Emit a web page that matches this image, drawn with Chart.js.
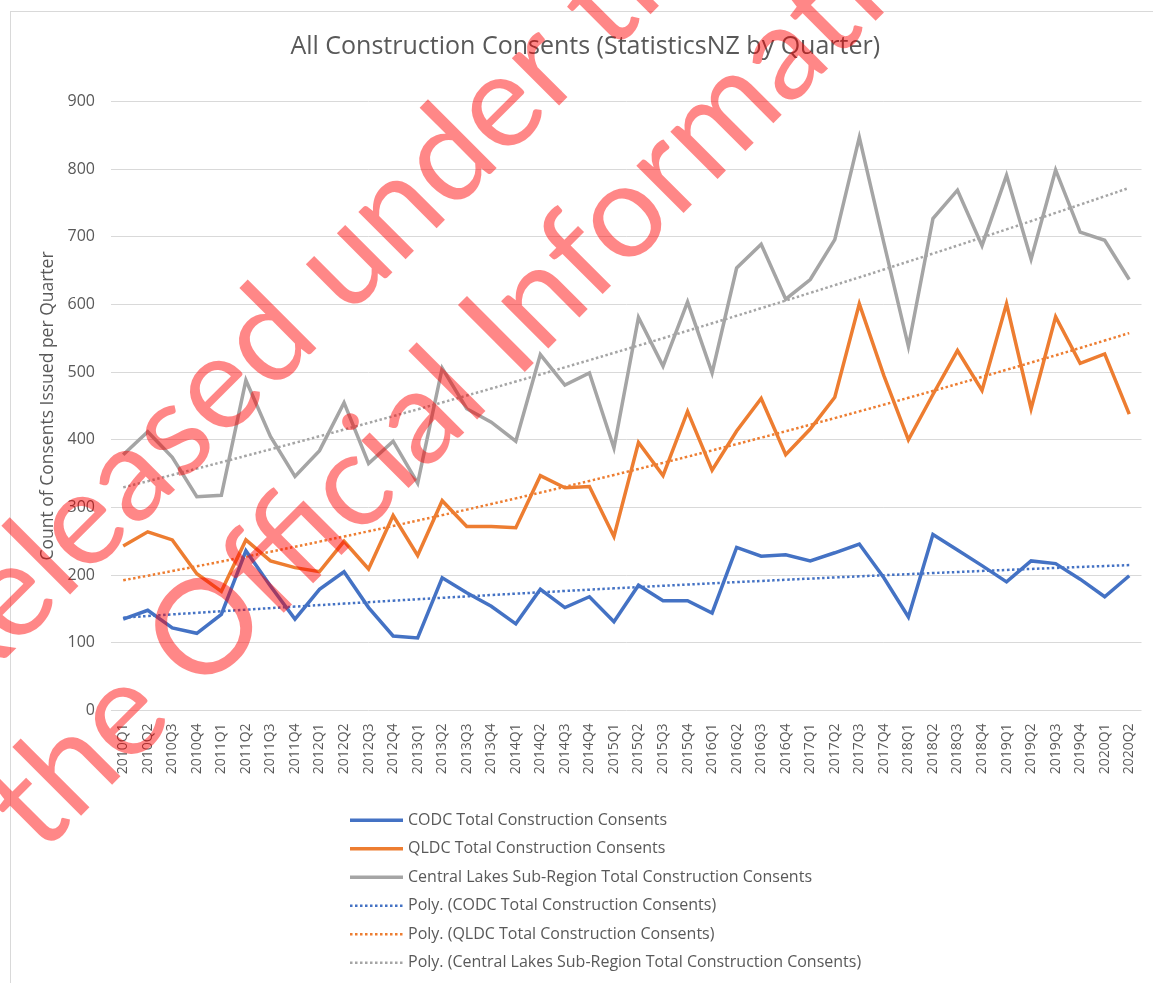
<!DOCTYPE html>
<html>
<head>
<meta charset="utf-8">
<title>All Construction Consents</title>
<script src="https://cdn.jsdelivr.net/npm/chart.js@4.4.1/dist/chart.umd.min.js"></script>
<style>
  html, body { margin: 0; padding: 0; background: #fff; }
  #wrap { width: 1153px; height: 983px; position: relative; }
</style>
</head>
<body>
<div id="wrap"><canvas id="consents-chart"></canvas></div>
<script>
const quarters = ["2010Q1","2010Q2","2010Q3","2010Q4","2011Q1","2011Q2","2011Q3","2011Q4",
  "2012Q1","2012Q2","2012Q3","2012Q4","2013Q1","2013Q2","2013Q3","2013Q4",
  "2014Q1","2014Q2","2014Q3","2014Q4","2015Q1","2015Q2","2015Q3","2015Q4",
  "2016Q1","2016Q2","2016Q3","2016Q4","2017Q1","2017Q2","2017Q3","2017Q4",
  "2018Q1","2018Q2","2018Q3","2018Q4","2019Q1","2019Q2","2019Q3","2019Q4",
  "2020Q1","2020Q2"];

const codc = [135,148,122,114,142,236,184,135,179,205,152,110,107,196,174,154,
  128,179,152,168,131,185,162,162,144,241,228,230,221,233,246,196,
  138,260,237,214,190,221,217,194,168,199];

const qldc = [243,264,252,202,176,252,221,211,205,250,209,288,229,310,272,272,
  270,347,329,331,257,396,347,442,355,413,461,378,416,463,601,495,
  400,467,532,473,601,446,582,513,527,438];

const centralLakes = [378,412,374,316,318,488,405,346,384,455,365,398,336,506,446,426,
  398,526,481,499,388,581,509,604,499,654,689,608,637,696,847,691,
  538,727,769,687,791,667,799,707,695,637];

const seriesNames = ["CODC Total Construction Consents",
  "QLDC Total Construction Consents",
  "Central Lakes Sub-Region Total Construction Consents"];

const BLUE = "#4472C4", ORANGE = "#ED7D31", GREY = "#A5A5A5";

// order 2 least squares fit, same as the excel "Poly." trendline
function polyTrend(values) {
  const s = [0, 0, 0, 0, 0], t = [0, 0, 0];
  values.forEach((v, i) => {
    const x = i + 1;
    for (let k = 0; k < 5; k++) s[k] += Math.pow(x, k);
    for (let k = 0; k < 3; k++) t[k] += v * Math.pow(x, k);
  });
  const det = m => m[0][0]*(m[1][1]*m[2][2]-m[1][2]*m[2][1])
                 - m[0][1]*(m[1][0]*m[2][2]-m[1][2]*m[2][0])
                 + m[0][2]*(m[1][0]*m[2][1]-m[1][1]*m[2][0]);
  const A = [[s[0], s[1], s[2]], [s[1], s[2], s[3]], [s[2], s[3], s[4]]];
  const d = det(A);
  const c = [0, 1, 2].map(col => det(A.map((row, r) => row.map((val, j) => j === col ? t[r] : val))) / d);
  return values.map((v, i) => c[0] + c[1] * (i + 1) + c[2] * (i + 1) * (i + 1));
}

function mainLine(label, data, color) {
  return { label: label, data: data, borderColor: color, backgroundColor: color,
           borderWidth: 3.5, pointRadius: 0, tension: 0, borderJoinStyle: "miter" };
}
function trendLine(label, data, color) {
  return { label: "Poly. (" + label + ")", data: polyTrend(data), borderColor: color,
           backgroundColor: color, borderWidth: 2.5, borderDash: [2.5, 2.5],
           pointRadius: 0, tension: 0.4 };
}

Chart.defaults.font.family = '"Open Sans", sans-serif';
Chart.defaults.color = "#595959";

// white page with the thin chart border (only left and top show in the frame)
const frame = {
  id: "frame",
  beforeDraw(chart) {
    const ctx = chart.ctx;
    ctx.save();
    ctx.fillStyle = "#fff";
    ctx.fillRect(0, 0, chart.width, chart.height);
    ctx.strokeStyle = "#D9D9D9";
    ctx.lineWidth = 1;
    ctx.strokeRect(10.5, 11.5, 1170, 1000);
    ctx.restore();
  }
};

// legend as a single column under the axis, like the excel one
const stackedLegend = {
  id: "stackedLegend",
  afterDraw(chart) {
    const ctx = chart.ctx;
    const top = chart.scales.x.bottom + 46;
    ctx.save();
    ctx.font = '16px "Open Sans"';
    ctx.textBaseline = "middle";
    chart.data.datasets.forEach((ds, i) => {
      const y = top + i * 28.5;
      ctx.strokeStyle = ds.borderColor;
      ctx.lineWidth = ds.borderWidth;
      ctx.setLineDash(ds.borderDash || []);
      ctx.beginPath();
      ctx.moveTo(350, y);
      ctx.lineTo(403, y);
      ctx.stroke();
      ctx.setLineDash([]);
      ctx.fillStyle = "#595959";
      ctx.fillText(ds.label, 408, y);
    });
    ctx.restore();
  }
};

// the red release stamp across the picture
const stamp = {
  id: "stamp",
  afterDraw(chart) {
    const ctx = chart.ctx;
    ctx.save();
    ctx.rotate(-Math.PI / 4);
    ctx.font = "132px Lato";
    ctx.fillStyle = "rgba(255, 0, 0, 0.47)";
    ctx.textBaseline = "alphabetic";
    const line1 = "Released under the";
    const u1 = 131 - ctx.measureText("Released u").width - ctx.measureText("n").width / 2;
    ctx.fillText(line1, u1, 470);
    const line2 = "the Official Information Act";
    const u2 = 114.5 - ctx.measureText("the Official ").width - ctx.measureText("I").width / 2;
    ctx.fillText(line2, u2, 634);
    ctx.restore();
  }
};

new Chart("consents-chart", {
  type: "line",
  data: {
    labels: quarters,
    datasets: [
      mainLine(seriesNames[0], codc, BLUE),
      mainLine(seriesNames[1], qldc, ORANGE),
      mainLine(seriesNames[2], centralLakes, GREY),
      trendLine(seriesNames[0], codc, BLUE),
      trendLine(seriesNames[1], qldc, ORANGE),
      trendLine(seriesNames[2], centralLakes, GREY)
    ]
  },
  options: {
    responsive: true,
    maintainAspectRatio: false,
    animation: false,
    events: [],
    layout: { padding: { left: 29, right: 11.5, top: 12, bottom: 208.7 } },
    plugins: {
      legend: { display: false },
      tooltip: { enabled: false },
      title: {
        display: true,
        text: "All Construction Consents (StatisticsNZ by Quarter)",
        font: { size: 25, weight: "normal" },
        color: "#595959",
        padding: { top: 20, bottom: 39.6 }
      }
    },
    scales: {
      x: {
        offset: true,
        grid: { display: false, drawTicks: true, tickLength: 13 },
        border: { display: false },
        ticks: { autoSkip: false, maxRotation: 90, minRotation: 90, padding: 0,
                 font: { size: 14 }, color: "#595959" }
      },
      y: {
        min: 0,
        max: 900,
        grid: { color: "#D9D9D9", lineWidth: 1, drawTicks: true, tickLength: 14,
                tickColor: "rgba(0,0,0,0)" },
        border: { display: false },
        ticks: { stepSize: 100, padding: 2, font: { size: 16 }, color: "#595959" },
        title: {
          display: true,
          text: "Count of Consents Issued per Quarter",
          font: { size: 17.5 },
          color: "#595959",
          padding: { top: 8.5, bottom: 7 }
        }
      }
    }
  },
  plugins: [frame, stackedLegend, stamp]
});
</script>
</body>
</html>
